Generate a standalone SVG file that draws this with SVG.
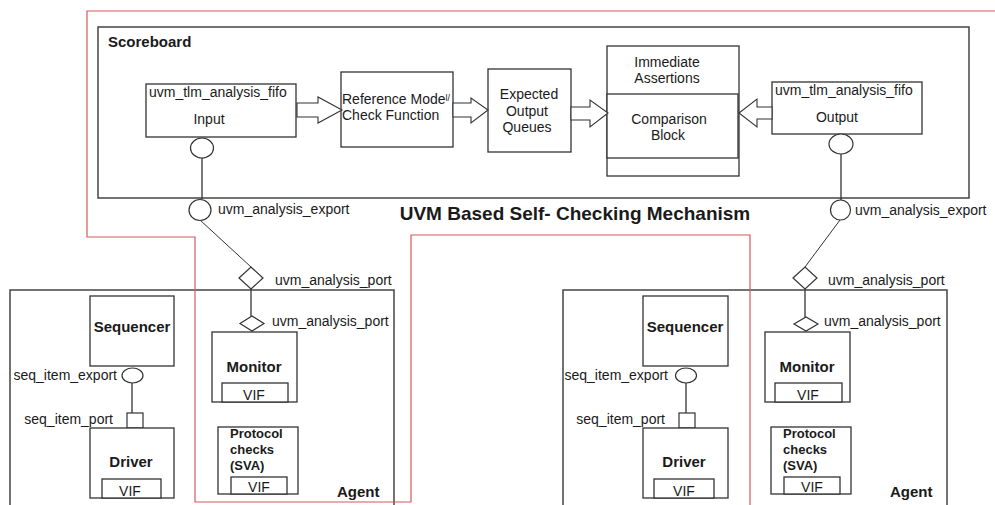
<svg xmlns="http://www.w3.org/2000/svg" width="995" height="505" viewBox="0 0 995 505">
  <style>
    text { font-family: "Liberation Sans", Arial, sans-serif; fill: #1a1a1a; }
    .t { font-size: 14px; }
    .b { font-size: 15px; font-weight: bold; }
    .s { font-size: 13px; font-weight: bold; }
    .mid { text-anchor: middle; }
    .end { text-anchor: end; }
    .box { fill: #ffffff; stroke: #333333; stroke-width: 1.3; }
    .frame { fill: none; stroke: #444444; stroke-width: 1.5; }
    .wire { fill: none; stroke: #333333; stroke-width: 1.3; }
    .thin { fill: none; stroke: #333333; stroke-width: 1; }
    .port { fill: #ffffff; stroke: #333333; stroke-width: 1.2; }
    .flow { fill: #ffffff; stroke: #333333; stroke-width: 1.1; stroke-linejoin: miter; }
    .border { fill: none; stroke: #d45a5a; stroke-width: 1.2; }
  </style>

  <rect width="995" height="505" fill="#ffffff"/>

  <!-- Scoreboard frame -->
  <g id="scoreboard">
    <rect class="frame" x="98" y="27" width="871" height="171"/>
    <text class="b" x="108" y="47">Scoreboard</text>
  </g>

  <g id="input-fifo">
    <rect class="box" x="146" y="84" width="150" height="53"/>
    <text class="t" x="149" y="97">uvm_tlm_analysis_fifo</text>
    <text class="t mid" x="209" y="124">Input</text>
  </g>

  <g id="reference-model">
    <rect class="box" x="341" y="72" width="112" height="75"/>
    <text class="t" x="342" y="104">Reference Mode<tspan font-size="9" dy="-3">l/</tspan></text>
    <text class="t" x="342" y="120">Check Function</text>
  </g>

  <g id="expected-queues">
    <rect class="box" x="488" y="69" width="83" height="83"/>
    <text class="t mid" x="529" y="99">Expected</text>
    <text class="t mid" x="527" y="116">Output</text>
    <text class="t mid" x="527" y="132">Queues</text>
  </g>

  <g id="comparison">
    <rect class="box" x="607" y="46" width="132" height="130"/>
    <rect class="box" x="607" y="94" width="131" height="64" stroke-width="1.6"/>
    <text class="t mid" x="667" y="67">Immediate</text>
    <text class="t mid" x="667" y="83">Assertions</text>
    <text class="t mid" x="669" y="124">Comparison</text>
    <text class="t mid" x="668" y="140">Block</text>
  </g>

  <g id="output-fifo">
    <rect class="box" x="772" y="82" width="150" height="52"/>
    <text class="t" x="775" y="95">uvm_tlm_analysis_fifo</text>
    <text class="t mid" x="837" y="122">Output</text>
  </g>

  <g id="title">
    <text x="575" y="220" text-anchor="middle" font-size="19" font-weight="bold">UVM Based Self- Checking Mechanism</text>
  </g>

  <!-- Connectors: data-flow arrows and port wiring -->
  <g id="connectors">
    <polygon class="flow" points="297,103 318,103 318,97 342,110 318,123 318,117 297,117"/>
    <polygon class="flow" points="453,103 471,103 471,98 488,110 471,123 471,117 453,117"/>
    <polygon class="flow" points="571,107 590,107 590,100 608,113 590,127 590,120 571,120"/>
    <polygon class="flow" points="772,107 757,107 757,99 739,113 757,127 757,119 772,119"/>

    <line class="wire" x1="202" y1="158" x2="202" y2="199"/>
    <line class="thin" x1="200" y1="220" x2="251" y2="267"/>
    <line class="wire" x1="251" y1="289" x2="251" y2="316"/>
    <line class="wire" x1="132" y1="383" x2="132" y2="413"/>

    <line class="wire" x1="841" y1="154" x2="841" y2="200"/>
    <line class="thin" x1="840" y1="220" x2="805" y2="267"/>
    <line class="wire" x1="805" y1="289" x2="805" y2="317"/>
    <line class="wire" x1="686" y1="383" x2="686" y2="413"/>
  </g>

  <!-- Ports on the scoreboard side -->
  <g id="scoreboard-ports">
    <ellipse class="port" cx="202" cy="148" rx="11.5" ry="10"/>
    <ellipse class="port" cx="200" cy="210" rx="11" ry="10.5"/>
    <text class="t" x="218" y="214">uvm_analysis_export</text>
    <ellipse class="port" cx="841" cy="144" rx="12" ry="10"/>
    <ellipse class="port" cx="840.5" cy="210" rx="10" ry="10"/>
    <text class="t" x="855" y="215">uvm_analysis_export</text>
  </g>

  <!-- Left agent -->
  <g id="agent-left">
    <rect class="frame" x="10" y="290" width="384" height="225" stroke-width="1.3"/>
    <text class="b" x="337" y="497">Agent</text>
    <polygon class="port" points="239,278 251,267 263,278 251,289"/>
    <text class="t" x="275" y="285">uvm_analysis_port</text>
  </g>
  <g id="sequencer-left">
    <rect class="box" x="90" y="296" width="84" height="70"/>
    <text class="b mid" x="132" y="332">Sequencer</text>
    <ellipse class="port" cx="132.5" cy="375.5" rx="10.5" ry="7.5"/>
    <text class="t end" x="117" y="380">seq_item_export</text>
  </g>
  <g id="driver-left">
    <rect class="port" x="127" y="413" width="16" height="15"/>
    <text class="t end" x="113" y="424">seq_item_port</text>
    <rect class="box" x="90" y="428" width="84" height="70"/>
    <text class="b mid" x="131" y="467">Driver</text>
    <rect class="box" x="102" y="479" width="59" height="19"/>
    <text class="t mid" x="130" y="496">VIF</text>
  </g>
  <g id="monitor-left">
    <polygon class="port" points="240,323.5 252,316 264,323.5 252,331"/>
    <text class="t" x="272" y="326">uvm_analysis_port</text>
    <rect class="box" x="212" y="332" width="85" height="70"/>
    <text class="b mid" x="254" y="372">Monitor</text>
    <rect class="box" x="222" y="383" width="66" height="19"/>
    <text class="t mid" x="254" y="400">VIF</text>
  </g>
  <g id="protocol-left">
    <rect class="box" x="218" y="427" width="80" height="67"/>
    <text class="s" x="230" y="438">Protocol</text>
    <text class="s" x="230" y="454">checks</text>
    <text class="s" x="230" y="470">(SVA)</text>
    <rect class="box" x="231" y="477" width="56" height="17"/>
    <text class="t mid" x="259" y="492">VIF</text>
  </g>

  <!-- Right agent -->
  <g id="agent-right">
    <rect class="frame" x="563" y="290" width="384" height="225" stroke-width="1.3"/>
    <text class="b" x="890" y="497">Agent</text>
    <polygon class="port" points="793,278 805,267 817,278 805,289"/>
    <text class="t" x="828" y="285">uvm_analysis_port</text>
  </g>
  <g id="sequencer-right">
    <rect class="box" x="643" y="296" width="85" height="70"/>
    <text class="b mid" x="685" y="332">Sequencer</text>
    <ellipse class="port" cx="686" cy="375.5" rx="10.5" ry="7.5"/>
    <text class="t end" x="668" y="380">seq_item_export</text>
  </g>
  <g id="driver-right">
    <rect class="port" x="679" y="413" width="16" height="15"/>
    <text class="t end" x="665" y="424">seq_item_port</text>
    <rect class="box" x="643" y="428" width="85" height="70"/>
    <text class="b mid" x="684" y="467">Driver</text>
    <rect class="box" x="654" y="479" width="60" height="19"/>
    <text class="t mid" x="684" y="496">VIF</text>
  </g>
  <g id="monitor-right">
    <polygon class="port" points="794,324 806,317 818,324 806,331"/>
    <text class="t" x="824" y="326">uvm_analysis_port</text>
    <rect class="box" x="765" y="332" width="85" height="70"/>
    <text class="b mid" x="807" y="372">Monitor</text>
    <rect class="box" x="775" y="383" width="67" height="19"/>
    <text class="t mid" x="808" y="400">VIF</text>
  </g>
  <g id="protocol-right">
    <rect class="box" x="771" y="427" width="80" height="67"/>
    <text class="s" x="783" y="438">Protocol</text>
    <text class="s" x="783" y="454">checks</text>
    <text class="s" x="783" y="470">(SVA)</text>
    <rect class="box" x="784" y="477" width="56" height="17"/>
    <text class="t mid" x="812" y="492">VIF</text>
  </g>

  <!-- Red outline -->
  <g id="outline">
    <path class="border" d="M995,11 H87 V237 H195 V502 H411 V235 H750 V505"/>
  </g>
</svg>
